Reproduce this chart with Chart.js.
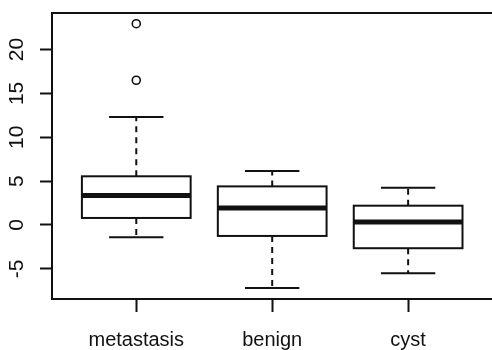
<!DOCTYPE html>
<html>
<head>
<meta charset="utf-8">
<script src="https://cdn.jsdelivr.net/npm/chart.js@4/dist/chart.umd.min.js"></script>
<style>
  html, body { margin: 0; padding: 0; background: #fff; overflow: hidden; }
  canvas { display: block; }
</style>
</head>
<body>
<canvas id="boxChart" width="498" height="350"></canvas>
<script>
// valores (boxplot estilo R)
const categories = ['metastasis', 'benign', 'cyst'];
const lowerWhisker = [-1.4, -7.2, -5.5];
const q1 = [0.8, -1.25, -2.65];
const median = [3.35, 1.95, 0.35];
const q3 = [5.55, 4.4, 2.2];
const upperWhisker = [12.3, 6.15, 4.25];
const outliers = [[16.5, 22.95], [], []];
const yTicks = [-5, 0, 5, 10, 15, 20];

const ink = '#111';

const outlierPoints = [];
outliers.forEach((list, i) => {
  list.forEach(v => outlierPoints.push({ x: i + 1, y: v }));
});

// desenha caixas, medianas, bigodes, moldura superior e rótulos do eixo y
const boxPlugin = {
  id: 'boxes',
  afterDatasetsDraw(chart) {
    const ctx = chart.ctx;
    const xs = chart.scales.x;
    const ys = chart.scales.y;
    const area = chart.chartArea;
    ctx.save();
    ctx.strokeStyle = ink;
    ctx.lineCap = 'butt';

    categories.forEach((c, i) => {
      const cx = xs.getPixelForValue(i + 1);
      const left = xs.getPixelForValue(i + 1 - 0.4);
      const right = xs.getPixelForValue(i + 1 + 0.4);
      const capL = xs.getPixelForValue(i + 1 - 0.2);
      const capR = xs.getPixelForValue(i + 1 + 0.2);
      const yLo = ys.getPixelForValue(lowerWhisker[i]);
      const yQ1 = ys.getPixelForValue(q1[i]);
      const yMed = ys.getPixelForValue(median[i]);
      const yQ3 = ys.getPixelForValue(q3[i]);
      const yHi = ys.getPixelForValue(upperWhisker[i]);

      // bigodes tracejados
      ctx.lineWidth = 2;
      ctx.setLineDash([6, 5]);
      ctx.beginPath();
      ctx.moveTo(cx, yQ1); ctx.lineTo(cx, yLo);
      ctx.moveTo(cx, yQ3); ctx.lineTo(cx, yHi);
      ctx.stroke();
      ctx.setLineDash([]);

      // extremidades
      ctx.beginPath();
      ctx.moveTo(capL, yLo); ctx.lineTo(capR, yLo);
      ctx.moveTo(capL, yHi); ctx.lineTo(capR, yHi);
      ctx.stroke();

      // caixa
      ctx.fillStyle = '#fff';
      ctx.fillRect(left, yQ3, right - left, yQ1 - yQ3);
      ctx.strokeRect(left, yQ3, right - left, yQ1 - yQ3);

      // mediana
      ctx.lineWidth = 5;
      ctx.beginPath();
      ctx.moveTo(left, yMed); ctx.lineTo(right, yMed);
      ctx.stroke();
    });

    // linha superior da moldura
    ctx.lineWidth = 2;
    ctx.beginPath();
    ctx.moveTo(area.left - 1, area.top);
    ctx.lineTo(chart.width, area.top);
    ctx.stroke();

    // rótulos do eixo y (girados como no R)
    ctx.fillStyle = ink;
    ctx.font = '21px "Liberation Sans", Arial, sans-serif';
    ctx.textAlign = 'center';
    ctx.textBaseline = 'middle';
    ys.ticks.forEach(t => {
      const py = ys.getPixelForValue(t.value);
      ctx.save();
      ctx.translate(17, py);
      ctx.rotate(-Math.PI / 2);
      ctx.fillText(String(t.value), 0, 0);
      ctx.restore();
    });
    ctx.restore();
  }
};

const config = {
  type: 'scatter',
  data: {
    datasets: [{
      label: 'outliers',
      data: outlierPoints,
      pointRadius: 4,
      pointHoverRadius: 4,
      borderWidth: 1.6,
      borderColor: ink,
      backgroundColor: '#fff'
    }]
  },
  options: {
    responsive: false,
    devicePixelRatio: 1,
    animation: false,
    layout: { padding: { top: 13, right: 0, left: 0, bottom: 0 } },
    plugins: { legend: { display: false }, tooltip: { enabled: false } },
    scales: {
      x: {
        type: 'linear',
        min: 0.38,
        max: 3.62,
        afterBuildTicks: s => { s.ticks = categories.map((c, i) => ({ value: i + 1 })); },
        afterFit: s => { s.height = 51; },
        ticks: {
          callback: v => categories[v - 1],
          color: ink,
          font: { family: '"Liberation Sans", Arial, sans-serif', size: 20 },
          padding: 16,
          maxRotation: 0,
          minRotation: 0
        },
        grid: { drawOnChartArea: false, tickLength: 13, tickWidth: 2, tickColor: ink },
        border: { display: true, color: ink, width: 2 }
      },
      y: {
        type: 'linear',
        min: -8.44,
        max: 24.17,
        afterBuildTicks: s => { s.ticks = yTicks.map(v => ({ value: v })); },
        afterFit: s => { s.width = 52; },
        ticks: { display: false },
        grid: { drawOnChartArea: false, tickLength: 12, tickWidth: 2, tickColor: ink },
        border: { display: true, color: ink, width: 2 }
      }
    }
  },
  plugins: [boxPlugin]
};

new Chart(document.getElementById('boxChart').getContext('2d'), config);
</script>
</body>
</html>
